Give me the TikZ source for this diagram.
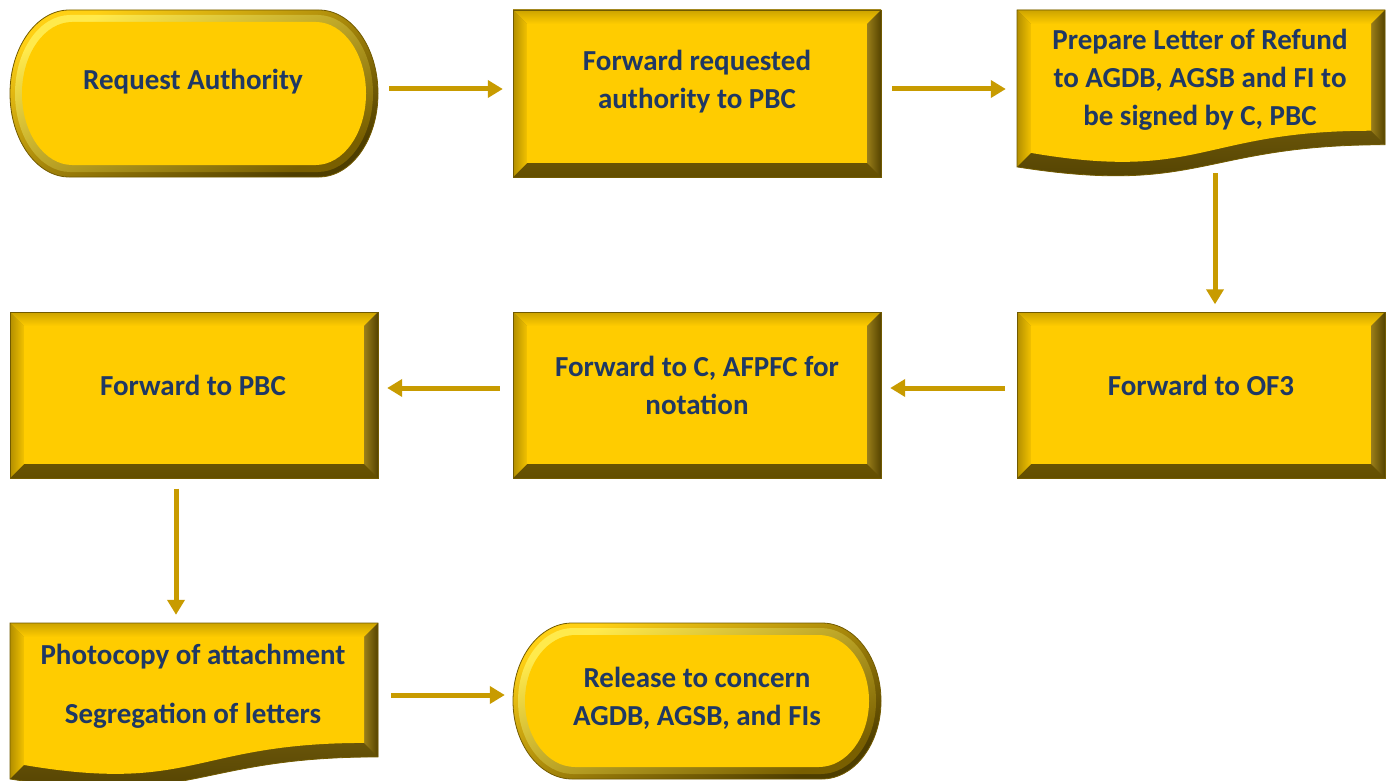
\documentclass[tikz,border=0pt]{standalone}
\usepackage{fontspec}
\setmainfont{Carlito}
\usetikzlibrary{arrows.meta,calc}

\definecolor{face}{HTML}{FFCC00}
\definecolor{ink}{HTML}{1F3864}
\definecolor{arrowc}{HTML}{C89B00}
\definecolor{rimline}{HTML}{8E7000}

\tikzset{
  hold/.style={draw=none,minimum width=368pt,minimum height=167pt,inner sep=0pt},
  caption/.style={text=ink,font=\bfseries\fontsize{29}{38}\selectfont,align=center,inner sep=0pt},
  flow/.style={draw=arrowc,line width=5pt,-{Triangle[length=15pt,width=17pt]}},
}

% bevelled rectangle: x0 y0 x1 y1 (y grows downwards)
\newcommand\bevrect[4]{%
  \def\bw{14}%
  \shade[top color=rimline!85!white,bottom color=rimline!70!black] (#1,#2) rectangle (#3,#4);
  \shade[top color=face!80!black,middle color=face!60!yellow!70!white,bottom color=face]
    (#1,#2) -- (#3,#2) -- ({#3-\bw},{#2+\bw}) -- ({#1+\bw},{#2+\bw}) -- cycle;
  \shade[left color=face!70!black,right color=face!95!black]
    (#1,#2) -- ({#1+\bw},{#2+\bw}) -- ({#1+\bw},{#4-\bw}) -- (#1,#4) -- cycle;
  \shade[left color=rimline!90!white,right color=rimline!60!black]
    (#3,#2) -- (#3,#4) -- ({#3-\bw},{#4-\bw}) -- ({#3-\bw},{#2+\bw}) -- cycle;
  \fill[face] ({#1+\bw},{#2+\bw}) rectangle ({#3-\bw},{#4-\bw});
  \draw[rimline!80!black,line width=0.8pt] (#1,#2) rectangle (#3,#4);
}

% bevelled document shape with a wavy lower edge: x0 y0 x1 y1
\newcommand\bevdoc[4]{%
  \def\bw{14}%
  \pgfmathsetmacro\dh{#4-#2}%
  \pgfmathsetmacro\yR{#2+0.802*\dh}%
  \pgfmathsetmacro\yL{#2+0.934*\dh}%
  \pgfmathsetmacro\yC{#2+1.107*\dh}%
  \pgfmathsetmacro\xm{(#1+#3)/2}%
  \shade[top color=rimline!90!white,bottom color=rimline!55!black]
    (#1,#2) -- (#3,#2) -- (#3,\yR) .. controls (\xm,\yR) and (\xm,\yC) .. (#1,\yL) -- cycle;
  \shade[top color=face!80!black,middle color=face!60!yellow!70!white,bottom color=face]
    (#1,#2) -- (#3,#2) -- ({#3-\bw},{#2+\bw}) -- ({#1+\bw},{#2+\bw}) -- cycle;
  \shade[left color=face!70!black,right color=face!95!black]
    (#1,#2) -- ({#1+\bw},{#2+\bw}) -- ({#1+\bw},{\yL-\bw}) -- (#1,\yL) -- cycle;
  \shade[left color=rimline!90!white,right color=rimline!60!black]
    (#3,#2) -- (#3,\yR) -- ({#3-\bw},{\yR-\bw}) -- ({#3-\bw},{#2+\bw}) -- cycle;
  \fill[face] ({#1+\bw},{#2+\bw}) -- ({#3-\bw},{#2+\bw}) -- ({#3-\bw},{\yR-\bw})
    .. controls (\xm,{\yR-\bw}) and (\xm,{\yC-\bw}) .. ({#1+\bw},{\yL-\bw}) -- cycle;
  \draw[rimline!80!black,line width=0.8pt]
    (#1,#2) -- (#3,#2) -- (#3,\yR) .. controls (\xm,\yR) and (\xm,\yC) .. (#1,\yL) -- cycle;
}

% stadium outline filled with a style: style x0 y0 x1 y1 rx
\newcommand\stadium[6]{%
  \pgfmathsetmacro\sxa{#2}\pgfmathsetmacro\sya{#3}%
  \pgfmathsetmacro\sxb{#4}\pgfmathsetmacro\syb{#5}%
  \pgfmathsetmacro\srx{#6}\pgfmathsetmacro\sry{(\syb-\sya)/2}%
  \path[#1] ({\sxa+\srx},\sya) -- ({\sxb-\srx},\sya)
    arc[start angle=-90,end angle=90,x radius=\srx,y radius=\sry]
    -- ({\sxa+\srx},\syb)
    arc[start angle=90,end angle=270,x radius=\srx,y radius=\sry] -- cycle;
}

% bevelled terminator: x0 y0 x1 y1
\newcommand\bevterm[4]{%
  \pgfmathsetmacro\rx{0.161*(#3-#1)}%
  \stadium{top color=face!92!white,bottom color=rimline!55!black,shading angle=25,draw=rimline!80!black,line width=0.8pt}{#1}{#2}{#3}{#4}{\rx}
  \stadium{top color=face!60!yellow!70!white,bottom color=rimline!85!black,shading angle=25}{#1+5}{#2+5}{#3-5}{#4-5}{\rx-4}
  \stadium{fill=face}{#1+12}{#2+12}{#3-12}{#4-12}{\rx-9}
}

\begin{document}
\begin{tikzpicture}[x=1pt,y=-1pt]
  \useasboundingbox (0,0) rectangle (1394,781);

  % shapes
  \bevterm{10}{10}{378}{177}
  \bevrect{513}{10}{881}{177}
  \bevdoc{1017}{10}{1385}{178}
  \bevrect{10}{312}{378}{478}
  \bevrect{513}{312}{881}{478}
  \bevrect{1017}{312}{1385}{478}
  \bevdoc{10}{623}{378}{790}
  \bevterm{513}{623}{881}{779}

  % anchor nodes of the boxes
  \node[hold] (A) at (194,93.5) {};
  \node[hold] (B) at (697,93.5) {};
  \node[hold] (C) at (1201,93.5) {};
  \node[hold] (D) at (194,395) {};
  \node[hold] (E) at (697,395) {};
  \node[hold] (F) at (1201,395) {};
  \node[hold,minimum height=156pt] (G) at (194,701) {};
  \node[hold,minimum height=156pt] (H) at (697,701) {};

  % texts
  \node[caption] (At) at (193,82) {Request Authority};
  \node[caption] (Bt) at (697,82) {Forward requested\\authority to PBC};
  \node[caption] (Ct) at (1200,80) {Prepare Letter of Refund\\to AGDB, AGSB and FI to\\be signed by C, PBC};
  \node[caption] (Dt) at (193,385) {Forward to PBC};
  \node[caption] (Et) at (697,385) {Forward to C, AFPFC for\\notation};
  \node[caption] (Ft) at (1201,385) {Forward to OF3};
  \node[caption] (Gt) at (193,686) {Photocopy of attachment\\[21pt]Segregation of letters};
  \node[caption] (Ht) at (697,698) {Release to concern\\AGDB, AGSB, and FIs};

  % connectors
  \draw[flow,shorten <=11pt,shorten >=10pt] ([yshift=4.5pt]A.east) -- ([yshift=4.5pt]B.west);
  \draw[flow,shorten <=11pt,shorten >=11pt] ([yshift=4.5pt]B.east) -- ([yshift=4.5pt]C.west);
  \draw[flow,shorten >=7pt] ([xshift=14pt,yshift=4pt]C.south) -- ([xshift=14pt]F.north);
  \draw[flow,shorten <=12pt,shorten >=9pt] ([yshift=7pt]F.west) -- ([yshift=7pt]E.east);
  \draw[flow,shorten <=13pt,shorten >=9pt] ([yshift=7pt]E.west) -- ([yshift=7pt]D.east);
  \draw[flow,shorten <=10pt,shorten >=8pt] ([xshift=-18pt]D.south) -- ([xshift=-18pt]G.north);
  \draw[flow,shorten <=13pt,shorten >=8pt] ([yshift=6pt]G.east) -- ([yshift=6pt]H.west);
\end{tikzpicture}
\end{document}
